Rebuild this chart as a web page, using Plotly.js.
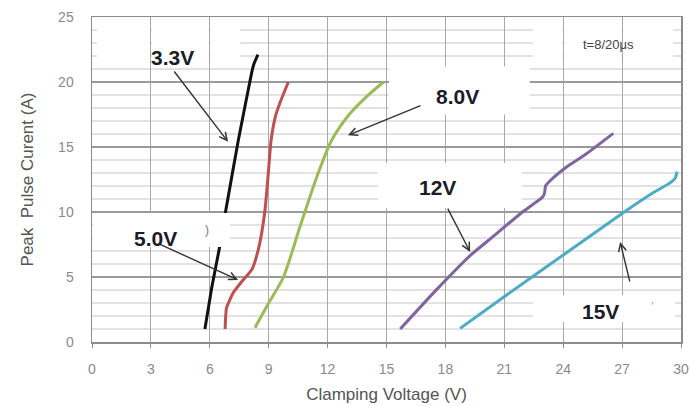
<!DOCTYPE html>
<html>
<head>
<meta charset="utf-8">
<script src="https://cdn.plot.ly/plotly-3.0.1.min.js"></script>
<style>html,body{margin:0;padding:0;background:#fff}#chart{width:690px;height:406px}</style>
</head>
<body>
<div id="chart"></div>
<script>
// ---- data ----
const v33_x = [5.75, 6.1, 6.5, 6.8, 7.45, 8.13, 8.25, 8.45];
const v33_y = [1.0, 4.2, 7.3, 10.0, 15.5, 20.7, 21.4, 22.1];

const v50_x = [6.78, 6.85, 7.2, 7.6, 8.15, 8.5, 8.8, 8.98, 9.12, 9.35, 9.6, 10.0];
const v50_y = [1.0, 2.6, 3.8, 4.6, 5.6, 7.3, 10.0, 13.0, 15.5, 17.4, 18.5, 20.0];

const v80_x = [8.3, 9.0, 9.75, 10.6, 11.45, 12.2, 13.1, 14.0, 14.85];
const v80_y = [1.1, 3.0, 5.0, 8.9, 12.7, 15.5, 17.5, 18.9, 20.0];

const v12_x = [15.7, 17.5, 19.3, 20.5, 21.8, 22.95, 23.05, 23.1, 23.4, 24.2, 25.2, 26.55];
const v12_y = [1.0, 3.95, 6.7, 8.2, 9.85, 11.15, 11.45, 12.0, 12.5, 13.5, 14.5, 16.05];

const v15_x = [18.75, 21.1, 24.2, 27.2, 28.6, 29.4, 29.7, 29.8];
const v15_y = [1.05, 3.6, 6.9, 10.1, 11.5, 12.2, 12.6, 13.1];

const seriesNames = ['3.3V', '5.0V', '8.0V', '12V', '15V'];
const seriesColors = ['#111111', '#c0504d', '#9bbb59', '#8064a2', '#4bacc6'];
const seriesSmooth = [0.3, 0.5, 0.8, 0.4, 0.6];

// axis tick spacing (labels 0..30 by 3, 0..25 by 5, minor grid every 1 A)
const xTickStep = 3;
const yTickStep = 5;
const yMinorStep = 1;
const yMax = 25;

// label text positions and arrow (tail -> tip) in data units
const labelText = ['3.3V', '8.0V', '12V', '5.0V', '15V'];
const labelX = [4.08, 18.6, 17.58, 3.21, 25.88];
const labelY = [21.85, 18.85, 11.85, 8.0, 2.31];
const arrowTailX = [4.13, 16.81, 18.08, 3.31, 27.41];
const arrowTailY = [20.92, 18.23, 10.38, 7.62, 4.54];
const arrowTipX = [6.93, 13.04, 19.26, 7.44, 26.9];
const arrowTipY = [15.4, 15.9, 6.92, 4.77, 7.7];

// ---- traces ----
const xs = [v33_x, v50_x, v80_x, v12_x, v15_x];
const ys = [v33_y, v50_y, v80_y, v12_y, v15_y];
const traces = xs.map((x, i) => ({
  x: x, y: ys[i], type: 'scatter', mode: 'lines', name: seriesNames[i],
  line: {color: seriesColors[i], width: 3, shape: 'spline', smoothing: seriesSmooth[i]},
  hoverinfo: 'skip'
}));

const shapes = [];
// minor horizontal grid lines (every 1 A, between the major 5 A lines)
for (let v = yMinorStep; v < yMax; v += yMinorStep) {
  if (v % yTickStep === 0) continue;
  shapes.push({type: 'line', xref: 'paper', yref: 'y', x0: 0, x1: 1, y0: v, y1: v,
    line: {color: '#c6c6c6', width: 1}, layer: 'below'});
}
// white patches (pasted label boxes in the source image)
function box(x0, x1, y0, y1) {
  return {type: 'rect', xref: 'x', yref: 'y', x0: x0, x1: x1, y0: y0, y1: y1,
          fillcolor: '#ffffff', line: {width: 0}, layer: 'above'};
}
shapes.push(
  // 3.3V box (vertical grid lines show through)
  box(0.25, 2.95, 21.5, 24.45), box(3.05, 5.95, 21.5, 24.45), box(6.05, 7.54, 21.5, 24.45),
  // t=8/20us box
  box(22.47, 23.95, 21.5, 24.45), box(24.05, 26.95, 21.5, 24.45), box(27.05, 29.6, 21.5, 24.45),
  // 8.0V box
  box(15.13, 22.3, 17.5, 21.2),
  // 12V box
  box(14.57, 21.9, 10.3, 13.77),
  // 5.0V box
  box(0.06, 7.03, 7.3, 9.92),
  // 15V box
  box(22.47, 29.7, 1.54, 3.6)
);

const labelFont = {family: 'Liberation Sans, Arial, sans-serif', size: 21, color: '#1c1c28'};
const annotations = [];
labelText.forEach((t, i) => {
  annotations.push({x: arrowTipX[i], y: arrowTipY[i], ax: arrowTailX[i], ay: arrowTailY[i],
    xref: 'x', yref: 'y', axref: 'x', ayref: 'y', text: '', showarrow: true,
    arrowhead: 5, arrowsize: 1.1, arrowwidth: 1.4, arrowcolor: '#333333', standoff: 0, startstandoff: 0});
  annotations.push({x: labelX[i], y: labelY[i], xref: 'x', yref: 'y', text: '<b>' + t + '</b>',
    showarrow: false, font: labelFont, xanchor: 'center', yanchor: 'middle'});
});
annotations.push({x: 26.29, y: 22.92, xref: 'x', yref: 'y', text: 't=8/20\u03bcs', showarrow: false,
  font: {family: 'Liberation Sans, Arial, sans-serif', size: 13, color: '#444'}, xanchor: 'center', yanchor: 'middle'});
annotations.push({x: 5.86, y: 8.6, xref: 'x', yref: 'y', text: ')', showarrow: false,
  font: {family: 'Liberation Sans, Arial, sans-serif', size: 12, color: '#777'}});
annotations.push({x: 28.53, y: 2.7, xref: 'x', yref: 'y', text: '\u2019', showarrow: false,
  font: {family: 'Liberation Sans, Arial, sans-serif', size: 12, color: '#999'}});

const tickFont = {family: 'Liberation Sans, Arial, sans-serif', size: 14, color: '#8a8a8a'};
const titleFont = {family: 'Liberation Sans, Arial, sans-serif', size: 17, color: '#555'};

const layout = {
  width: 690, height: 406,
  margin: {l: 92, r: 9, t: 17, b: 64},
  paper_bgcolor: '#ffffff', plot_bgcolor: '#ffffff',
  showlegend: false,
  xaxis: {
    range: [0, 30], tickmode: 'linear', tick0: 0, dtick: xTickStep,
    showgrid: true, gridcolor: '#a8a8a8', gridwidth: 1, zeroline: false,
    showline: true, mirror: true, linecolor: '#8c8c8c', linewidth: 1.5,
    ticks: 'outside', ticklen: 4, tickcolor: '#8c8c8c', ticklabelstandoff: 10,
    tickfont: tickFont,
    title: {text: 'Clamping Voltage (V)', font: titleFont, standoff: 12}
  },
  yaxis: {
    range: [0, yMax], tickmode: 'linear', tick0: 0, dtick: yTickStep,
    showgrid: true, gridcolor: '#9a9a9a', gridwidth: 1.3, zeroline: false,
    showline: true, mirror: true, linecolor: '#8c8c8c', linewidth: 1.5,
    ticks: '', ticklabelstandoff: 14,
    tickfont: tickFont,
    title: {text: 'Peak\u00a0 Pulse Curent (A)', font: titleFont, standoff: 20}
  },
  shapes: shapes,
  annotations: annotations
};

Plotly.newPlot('chart', traces, layout, {staticPlot: true, displayModeBar: false});
</script>
</body>
</html>
